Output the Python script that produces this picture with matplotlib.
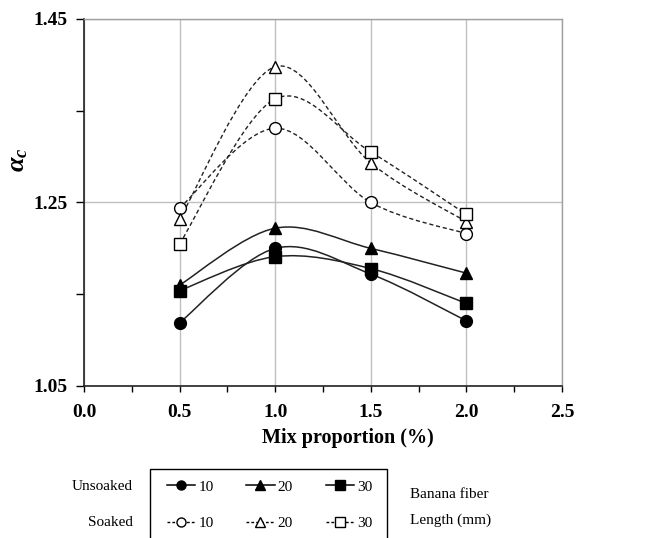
import numpy as np
import matplotlib
matplotlib.use("Agg")
import matplotlib.pyplot as plt
from matplotlib.path import Path
from matplotlib.patches import PathPatch, Rectangle
from matplotlib.lines import Line2D

plt.rcParams['font.family'] = ['Liberation Serif', 'DejaVu Serif']
plt.rcParams['mathtext.fontset'] = 'custom'
plt.rcParams['mathtext.it'] = 'Liberation Serif:italic:bold'
plt.rcParams['mathtext.rm'] = 'Liberation Serif:bold'

mix = [0.5, 1.0, 1.5, 2.0]
unsoaked_10 = [1.119, 1.200, 1.172, 1.121]
unsoaked_20 = [1.160, 1.222, 1.200, 1.173]
unsoaked_30 = [1.154, 1.191, 1.178, 1.140]
soaked_10 = [1.244, 1.331, 1.250, 1.216]
soaked_20 = [1.232, 1.398, 1.293, 1.229]
soaked_30 = [1.205, 1.363, 1.305, 1.237]
lengths = ['10', '20', '30']

fig = plt.figure(figsize=(6.46, 5.38), dpi=100)
ax = fig.add_axes([84/646, 1-386/538, 478/646, 367/538])


def smooth_path(x, y):
    pts = np.column_stack([x, y]).astype(float)
    n = len(pts)
    verts = [pts[0]]
    codes = [Path.MOVETO]
    for i in range(n - 1):
        p_prev = pts[i - 1] if i > 0 else pts[i]
        p_next2 = pts[i + 2] if i + 2 < n else pts[i + 1]
        c1 = pts[i] + (pts[i + 1] - p_prev) / 6.0
        c2 = pts[i + 1] - (p_next2 - pts[i]) / 6.0
        verts += [c1, c2, pts[i + 1]]
        codes += [Path.CURVE4] * 3
    return Path(verts, codes)


series = [
    (unsoaked_10, 'o', True), (unsoaked_20, '^', True), (unsoaked_30, 's', True),
    (soaked_10, 'o', False), (soaked_20, '^', False), (soaked_30, 's', False),
]
dash = (0, (3, 2))
for vals, mk, filled in series:
    ls = '-' if filled else dash
    patch = PathPatch(smooth_path(mix, vals), fill=False, edgecolor='#222222',
                      lw=1.1 if filled else 1.0, linestyle=ls, zorder=3)
    ax.add_patch(patch)
    ax.plot(mix, vals, linestyle='none', marker=mk, markersize=8.5 if mk != 's' else 8,
            markerfacecolor='black' if filled else 'white',
            markeredgecolor='black', markeredgewidth=1.0, zorder=4)

ax.set_xlim(0, 2.5)
ax.set_ylim(1.05, 1.45)
ax.set_xticks([0, 0.5, 1.0, 1.5, 2.0, 2.5])
ax.set_xticks(np.arange(0, 2.51, 0.25), minor=True)
ax.set_yticks([1.05, 1.25, 1.45])
ax.set_yticks([1.15, 1.35], minor=True)
ax.set_xticklabels(['0.0', '0.5', '1.0', '1.5', '2.0', '2.5'], fontweight='bold', fontsize=14)
ax.set_yticklabels(['1.05', '1.25', '1.45'], fontweight='bold', fontsize=14)
ax.tick_params(axis='x', which='both', direction='out', length=4, width=1, pad=9)
ax.tick_params(axis='y', which='both', direction='out', length=5.5, width=1, pad=6)
ax.grid(True, which='major', color='#c0c0c0', lw=1)
ax.set_axisbelow(True)
for s in ['left', 'bottom']:
    ax.spines[s].set_color('#222222')
    ax.spines[s].set_linewidth(1.2)
for s in ['top', 'right']:
    ax.spines[s].set_color('#a0a0a0')
    ax.spines[s].set_linewidth(1.0)

ax.set_xlabel('Mix proportion (%)', fontweight='bold', fontsize=14.5)
ax.xaxis.set_label_coords(0.552, -0.115)
ax.set_ylabel(r'$\alpha_c$', fontsize=19, rotation=90)
ax.yaxis.set_label_coords(-0.112, 0.616)

# legend
handles = []
labels = []
for j, mk in enumerate(['o', '^', 's']):
    handles.append(Line2D([], [], color='black', lw=1.1, marker=mk, markersize=6.5,
                          markerfacecolor='black', markeredgecolor='black'))
    labels.append(lengths[j])
    handles.append(Line2D([], [], color='black', lw=1.0, linestyle=(0, (2, 1.5)), marker=mk,
                          markersize=6.5, markerfacecolor='white', markeredgecolor='black'))
    labels.append(lengths[j])
leg = fig.legend(handles, labels, ncol=3, loc='upper left',
                 bbox_to_anchor=(167/646, 1-480/538), frameon=False,
                 fontsize=11, handlelength=1.85, handletextpad=0.2,
                 columnspacing=2.14, labelspacing=1.48, borderpad=0, borderaxespad=0)
fig.add_artist(Rectangle((150/646, 1-545/538), 237/646, 76/538, transform=fig.transFigure,
                         fill=False, edgecolor='black', lw=1.0))

fig.text(133/646, 1-486/538, 'Unsoaked', ha='right', va='center', fontsize=11)
fig.text(133/646, 1-522/538, 'Soaked', ha='right', va='center', fontsize=11)
fig.text(410/646, 1-494/538, 'Banana fiber', ha='left', va='center', fontsize=11)
fig.text(410/646, 1-520/538, 'Length (mm)', ha='left', va='center', fontsize=11)

fig.savefig('out.png', dpi=100)
